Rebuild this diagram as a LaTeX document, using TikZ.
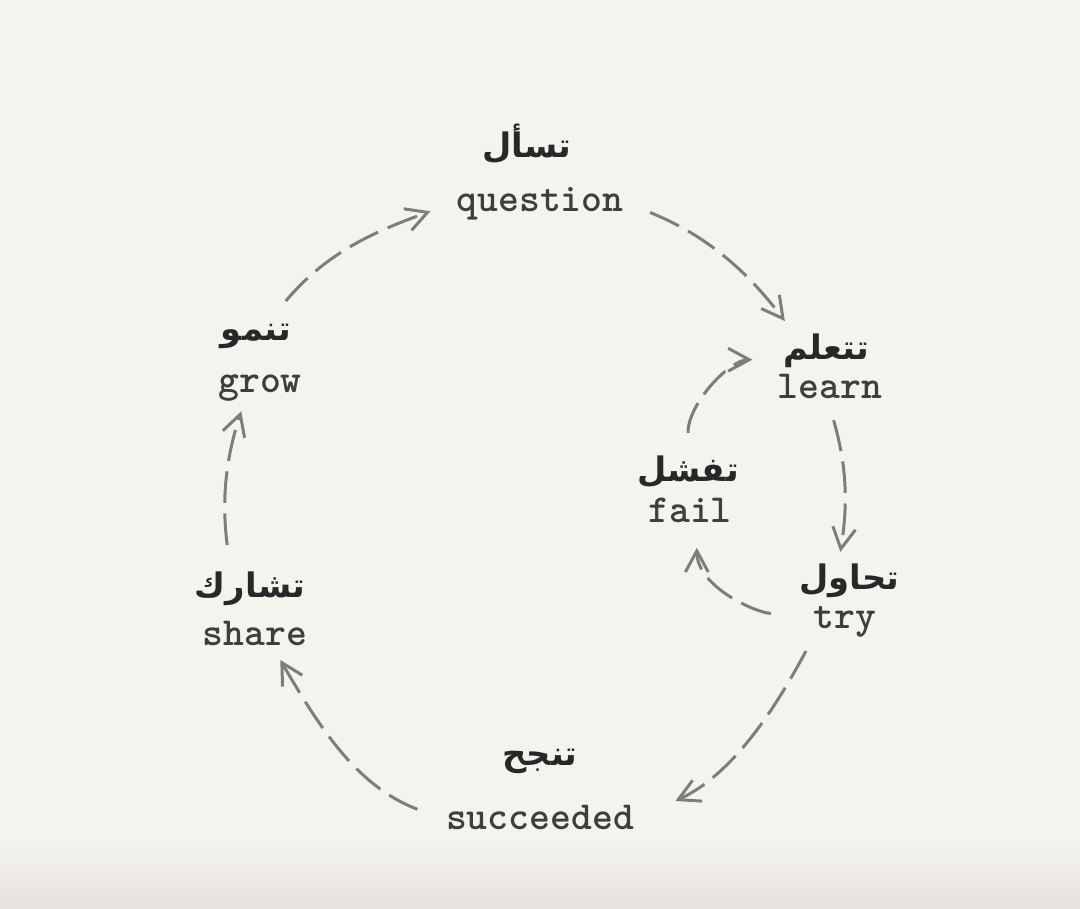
\documentclass[tikz,border=0pt]{standalone}
\usepackage{fontspec}
\usepackage{tikz}
\usetikzlibrary{arrows.meta}
\newfontfamily\arabicfont[Script=Arabic]{DejaVu Sans}
\TeXXeTstate=1
\definecolor{paper}{RGB}{245,243,238}
\definecolor{paperdark}{RGB}{229,226,220}
\definecolor{ink}{RGB}{62,62,62}
\definecolor{arink}{RGB}{40,40,40}
\definecolor{dashgray}{RGB}{125,125,125}
\tikzset{
	word/.style={font=\ttfamily\bfseries\fontsize{11.3}{13}\selectfont,text=ink,inner sep=0pt,text height=0.27cm,text depth=0.09cm},
	arword/.style={font={\arabicfont\bfseries\fontsize{9.6}{11}\selectfont},text=arink,inner sep=0pt,text height=0.25cm,text depth=0.1cm},
	flow/.style={draw=dashgray,line width=0.85pt,dash pattern=on 9pt off 3pt,-{Straight Barb[length=6pt,width=6.5pt]}}
}
\begin{document}
\begin{tikzpicture}[x=0.01cm,y=0.01cm]
	\fill[paper] (0,0) rectangle (1080,-908);
	\shade[top color=paper,bottom color=paperdark] (0,-840) rectangle (1080,-908);
	\useasboundingbox (0,0) rectangle (1080,-908);
	\node[arword] (questionar) at (527,-150) {\beginR تسأل\endR};
	\node[word] (question) at (540,-202) {question};
	\node[arword] (learnar) at (826,-352) {\beginR تتعلم\endR};
	\node[word] (learn) at (830,-389) {learn};
	\node[arword] (failar) at (688,-474) {\beginR تفشل\endR};
	\node[word] (fail) at (690,-513) {fail};
	\node[arword] (tryar) at (849,-582) {\beginR تحاول\endR};
	\node[word] (try) at (845,-619) {try};
	\node[arword] (succeededar) at (540,-758) {\beginR تنجح\endR};
	\node[word] (succeeded) at (540,-820) {succeeded};
	\node[arword] (sharear) at (250,-590) {\beginR تشارك\endR};
	\node[word] (share) at (255,-636) {share};
	\node[arword] (growar) at (256,-333) {\beginR تنمو\endR};
	\node[word] (grow) at (260,-383) {grow};
	\draw[flow,shorten <=0.18cm,shorten >=0.27cm] (growar.45) to[out=50,in=200] (question.west);
	\draw[flow,shorten <=0.28cm,shorten >=0.16cm] (question.east) to[out=-22,in=127] (learnar.150);
	\draw[flow,shorten <=0.13cm,shorten >=0.12cm] (learn.south) to[out=-74,in=81] (tryar.120);
	\draw[flow,shorten <=0.15cm,shorten >=0.45cm] (try.south west) to[out=-118,in=25] (succeeded.east);
	\draw[flow,shorten <=0.3cm,shorten >=0.06cm] (succeeded.west) to[out=159,in=300] (share.-40);
	\draw[flow,shorten <=0.27cm,shorten >=0.1cm] (sharear.137) to[out=97,in=252] (grow.-130);
	\draw[flow,shorten <=0.42cm,shorten >=0.16cm] (try.170) to[out=180,in=270] (fail.-70);
	\draw[flow,shorten <=0.23cm,shorten >=0.3cm] (failar.north) to[out=90,in=180] (learnar.190);
\end{tikzpicture}
\end{document}
